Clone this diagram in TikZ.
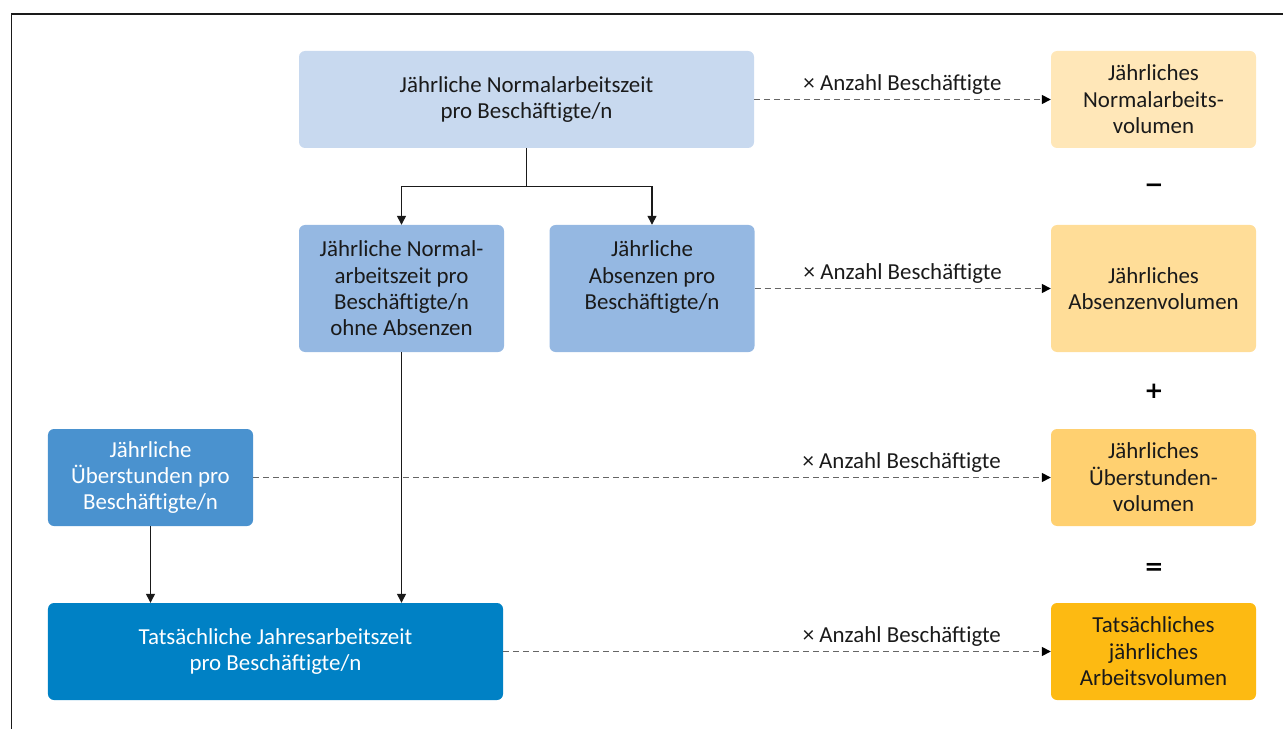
\documentclass[tikz,border=0pt]{standalone}
\usepackage{fontspec}
\setmainfont{Carlito}
\newfontfamily\opfont{DejaVu Sans}
\usetikzlibrary{arrows.meta}
\definecolor{blueA}{HTML}{C8D9EF}
\definecolor{blueB}{HTML}{95B8E2}
\definecolor{blueC}{HTML}{4A92CF}
\definecolor{blueD}{HTML}{0081C5}
\definecolor{yelA}{HTML}{FFE7B8}
\definecolor{yelB}{HTML}{FFDD98}
\definecolor{yelC}{HTML}{FFD070}
\definecolor{yelD}{HTML}{FDBA12}
\definecolor{ink}{HTML}{1A1A1A}
\definecolor{dashgray}{HTML}{666666}
\begin{document}
\begin{tikzpicture}[x=1bp,y=-1bp,
  box/.style={rounded corners=6bp, inner sep=0pt, align=center, text=ink,
    font=\fontsize{23}{26.5}\selectfont},
  wide/.style={minimum width=455bp, minimum height=97bp},
  narrowshort/.style={minimum width=205bp, minimum height=97bp},
  narrowtall/.style={minimum width=205bp, minimum height=127bp},
  tree/.style={line width=1.3bp, draw=ink, -{Triangle[length=9bp,width=9bp]}},
  perhead/.style={dashed, dash pattern=on 6bp off 4bp, line width=1.4bp, draw=dashgray,
    -{Triangle[length=9bp,width=9bp,color=black]}},
  factor/.style={font=\fontsize{23}{26}\selectfont, text=ink, above=1bp},
  op/.style={font=\opfont\fontsize{23}{23}\selectfont\bfseries, text=black, inner sep=0pt}]
\useasboundingbox (0,0) rectangle (1283,729);
% open frame
\draw[line width=1.5bp, draw=ink] (11.5,729) -- (11.5,14) -- (1283,14);

% per-person quantities
\node[box, wide, fill=blueA] (A) at (526.5,99.5) {Jährliche Normalarbeitszeit\\pro Beschäftigte/n};
\node[box, narrowtall, fill=blueB] (B) at (401.5,288.5) {Jährliche Normal-\\arbeitszeit pro\\Beschäftigte/n\\ohne Absenzen};
\node[box, narrowtall, fill=blueB] (C) at (652,288.5) {Jährliche\\Absenzen pro\\Beschäftigte/n\\\mbox{}};
\node[box, narrowshort, fill=blueC, text=white] (D) at (150.5,477.5) {Jährliche\\Überstunden pro\\Beschäftigte/n};
\node[box, wide, fill=blueD, text=white] (E) at (275.5,651.5) {Tatsächliche Jahresarbeitszeit\\pro Beschäftigte/n};

% volumes
\node[box, narrowshort, fill=yelA] (R1) at (1153.5,99.5) {Jährliches\\Normalarbeits-\\volumen};
\node[box, narrowtall, fill=yelB] (R2) at (1153.5,288.5) {Jährliches\\Absenzenvolumen};
\node[box, narrowshort, fill=yelC] (R3) at (1153.5,477.5) {Jährliches\\Überstunden-\\volumen};
\node[box, narrowshort, fill=yelD] (R4) at (1153.5,651.5) {Tatsächliches\\jährliches\\Arbeitsvolumen};

% operators between volumes
\node[op] (minus) at (1154,188.5) {−};
\node[op] (plus) at (1154,391) {+};
\node[op] (equals) at (1154,568.5) {=};

% tree connectors
\draw[tree] (A.south) -- ++(0,38) -| (B.north);
\draw[tree] (A.south) -- ++(0,38) -| (C.north);
\draw[tree] (B.south) -- (B.south |- E.north);
\draw[tree] (D.south) -- (D.south |- E.north);

% multiplication by headcount
\draw[perhead] (A.east) -- (R1.west) node[factor, pos=0.5] (f1) {× Anzahl Beschäftigte};
\draw[perhead] (C.east |- R2.west) -- (R2.west) node[factor, pos=0.5] (f2) {× Anzahl Beschäftigte};
\draw[perhead] (D.east) -- (R3.west) node[factor, pos=0.813] (f3) {× Anzahl Beschäftigte};
\draw[perhead] (E.east) -- (R4.west) node[factor, pos=0.728] (f4) {× Anzahl Beschäftigte};
\end{tikzpicture}
\end{document}
